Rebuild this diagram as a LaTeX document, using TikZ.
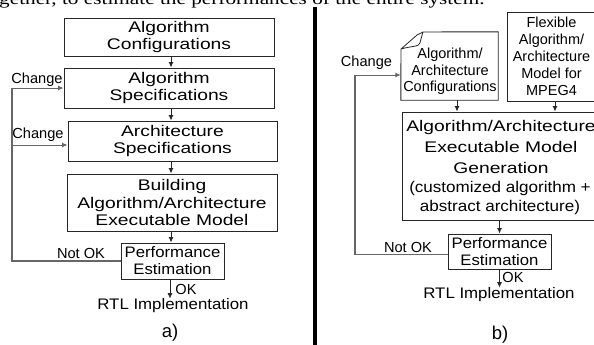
\documentclass[tikz,border=0pt]{standalone}
\usepackage{fontspec}
\usetikzlibrary{arrows.meta}
\newfontfamily\fA[FakeStretch=1.25]{Liberation Sans}
\newfontfamily\fB[FakeStretch=1.1]{Liberation Sans}
\newfontfamily\fC{Liberation Sans}
\newfontfamily\fS[FakeStretch=1.25]{Liberation Serif}
\tikzset{
  boxa/.style={draw=black!85, line width=0.9pt, inner sep=0pt, align=center,
    font=\fA\fontsize{15.4pt}{17.6pt}\selectfont},
  perf/.style={draw=black!85, line width=0.9pt, inner sep=0pt, align=center,
    font=\fB\fontsize{15.2pt}{17pt}\selectfont},
  lbl/.style={inner sep=0pt, font=\fC\fontsize{14.6pt}{16pt}\selectfont},
  rtl/.style={inner sep=0pt, font=\fB\fontsize{15.3pt}{17pt}\selectfont},
  small/.style={inner sep=0pt, align=center, font=\fC\fontsize{14.5pt}{17pt}\selectfont},
  arr/.style={draw=black!85, line width=0.9pt, -{Latex[length=5.5pt,width=5pt]}},
  fbk/.style={draw=black!60, line width=1.1pt},
}
\begin{document}
\begin{tikzpicture}[x=1pt,y=-1pt]
\useasboundingbox (0,0) rectangle (594,345);
\clip (0,0) rectangle (594,345);

% cut-off text line at the top
\node[anchor=base west, inner sep=0pt, font=\fS\fontsize{17pt}{20pt}\selectfont] (toptext) at (-1,4.5)
  {gether, to estimate the performances of the entire system.};

% ---------- panel a ----------
\coordinate (ax) at (171,0);
\coordinate (fa) at (12,0);
\coordinate (c2) at (12,145);
\node[boxa, minimum width=210pt, minimum height=38pt] (b1) at (169,37) {Algorithm\\Configurations};
\node[boxa, minimum width=210pt, minimum height=40pt] (b2) at (169,88) {Algorithm\\Specifications};
\node[boxa, minimum width=209pt, minimum height=40pt] (b3) at (172.5,141) {Architecture\\Specifications};
\node[boxa, minimum width=210pt, minimum height=57pt] (b4) at (172,202.5) {Building\\Algorithm/Architecture\\Executable Model};
\node[perf, minimum width=103pt, minimum height=36pt] (p1) at (172.5,261) {Performance\\Estimation};
\node[rtl] (rtla) at (173,306) {RTL Implementation};
\node[inner sep=0pt, font=\fC\fontsize{18.5pt}{20pt}\selectfont] (capa) at (170,333) {a)};

\draw[arr] (b1.south -| ax) -- (b2.north -| ax);
\draw[arr] (b2.south -| ax) -- (b3.north -| ax);
\draw[arr] (b3.south -| ax) -- (b4.north -| ax);
\draw[arr] (b4.south -| ax) -- (p1.north -| ax);
\draw[arr] ([xshift=-2.5pt]p1.south) -- ([xshift=-2.5pt]p1.south |- rtla.north);

\draw[fbk] (p1.west) -| (fa |- b2.west);
\draw[arr, draw=black!60] (fa |- b2.west) -- (b2.west);
\draw[arr, draw=black!60] (c2) -- (c2 -| b3.west);

\node[lbl] (cha1) at (37,80) {Change};
\node[lbl] (cha2) at (38,135) {Change};
\node[lbl] (noka) at (81,253) {Not OK};
\node[lbl] (oka) at (186,289) {OK};

% divider
\draw[line width=4.5pt] (315,7) -- (315,346);

% ---------- panel b ----------
\node[small, minimum width=97pt, minimum height=68pt] (doc) at (449.5,66) {};
\node[small] (doctext) at (450,71.5) {Algorithm/\\[-0.6pt]Architecture\\[-0.6pt]Configurations};
\draw[draw=black!85, line width=0.9pt]
  (423,32) -- (doc.north east) -- (doc.south east) -- (doc.south west) -- (401,49);
\draw[draw=black!85, line width=0.8pt]
  (401,49) -- (417,35) -- (423,32)
  (401,49) .. controls (411,46) and (419,47) .. (420,43) .. controls (421,39) and (422,35) .. (423,32);

\node[small, draw=black!85, line width=0.9pt, minimum width=89pt, minimum height=89pt] (flex) at (551.5,56.5)
  {Flexible\\Algorithm/\\Architecture\\Model for\\MPEG4};

\node[boxa, minimum width=198pt, minimum height=108pt] (big) at (501,166) {};
\node[inner sep=0pt, align=center, font=\fA\fontsize{15.4pt}{21pt}\selectfont] (bigt1) at (501,147)
  {Algorithm/Architecture\\Executable Model\\Generation};
\node[inner sep=0pt, align=center, font=\fB\fontsize{15.5pt}{19pt}\selectfont] (bigt2) at (500,197.5)
  {(customized algorithm +\\abstract architecture)};

\node[perf, minimum width=103pt, minimum height=35pt] (p2) at (499.5,251.5) {Performance\\Estimation};
\node[rtl] (rtlb) at (499,295) {RTL Implementation};
\node[inner sep=0pt, font=\fC\fontsize{18.5pt}{20pt}\selectfont] (capb) at (500,335) {b)};

\coordinate (c3) at (355,75);
\draw[arr] ([xshift=7.5pt]doc.south) -- ([xshift=7.5pt]doc.south |- big.north);
\draw[arr] ([xshift=3.5pt]flex.south) -- ([xshift=3.5pt]flex.south |- big.north);
\draw[arr] (big.south -| p2.north) -- (p2.north);
\draw[arr] (p2.south) -- (p2.south |- rtlb.north);
\draw[fbk] ([yshift=-3pt]p2.west) -| (c3);
\draw[arr, draw=black!60] (c3) -- (c3 -| doc.west);

\node[lbl] (chb) at (366.5,63) {Change};
\node[lbl] (nokb) at (408,247) {Not OK};
\node[lbl] (okb) at (513,277) {OK};
\end{tikzpicture}
\end{document}
